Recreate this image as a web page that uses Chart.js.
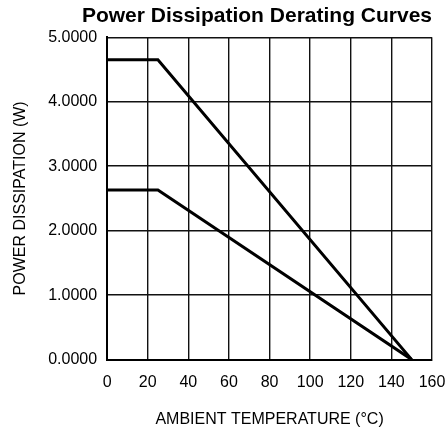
<!DOCTYPE html>
<html>
<head>
<meta charset="utf-8">
<script src="https://cdn.jsdelivr.net/npm/chart.js@4"></script>
<style>
  html, body { margin: 0; padding: 0; background: #fff; }
  #wrap { width: 447px; height: 429px; }
</style>
</head>
<body>
<div id="wrap"><canvas id="deratingChart" width="447" height="429"></canvas></div>
<script>
    // Derating curve data
    const ambientTemps = [0, 25, 150];
    const highPower = [4.65, 4.65, 0];
    const lowPower = [2.63, 2.63, 0];
    const xTicks = [0, 20, 40, 60, 80, 100, 120, 140, 160];
    const yTicks = [0, 1, 2, 3, 4, 5];

    const toPoints = (ys) => ambientTemps.map((t, i) => ({ x: t, y: ys[i] }));

    const ctx = document.getElementById('deratingChart').getContext('2d');
    new Chart(ctx, {
        type: 'line',
        data: {
            datasets: [
                {
                    label: 'High',
                    data: toPoints(highPower),
                    borderColor: '#000',
                    borderWidth: 3,
                    pointRadius: 0,
                    tension: 0
                },
                {
                    label: 'Low',
                    data: toPoints(lowPower),
                    borderColor: '#000',
                    borderWidth: 3,
                    pointRadius: 0,
                    tension: 0
                }
            ]
        },
        options: {
            responsive: false,
            animation: false,
            layout: {
                padding: { left: 11, right: 15, top: 0, bottom: 0 }
            },
            plugins: {
                legend: { display: false },
                tooltip: { enabled: false },
                title: {
                    display: true,
                    align: 'end',
                    text: 'Power Dissipation Derating Curves',
                    color: '#000',
                    font: { family: 'Liberation Sans', size: 21, weight: 'bold' },
                    padding: { top: 4, bottom: 8 }
                }
            },
            scales: {
                x: {
                    type: 'linear',
                    min: xTicks[0],
                    max: xTicks[xTicks.length - 1],
                    afterBuildTicks: (axis) => { axis.ticks = xTicks.map(v => ({ value: v })); },
                    afterFit: (axis) => { axis.paddingRight = 0; },
                    grid: { color: '#111', lineWidth: 1.4, drawTicks: false },
                    border: { color: '#000', width: 2 },
                    ticks: {
                        color: '#000',
                        padding: 13,
                        maxRotation: 0,
                        font: { family: 'Liberation Sans', size: 16 }
                    },
                    title: {
                        display: true,
                        text: 'AMBIENT TEMPERATURE (°C)',
                        color: '#000',
                        font: { family: 'Liberation Sans', size: 16 },
                        padding: { top: 5, bottom: 0 }
                    }
                },
                y: {
                    min: yTicks[0],
                    max: yTicks[yTicks.length - 1],
                    afterBuildTicks: (axis) => { axis.ticks = yTicks.map(v => ({ value: v })); },
                    grid: { color: '#111', lineWidth: 1.4, drawTicks: false },
                    border: { color: '#000', width: 2 },
                    ticks: {
                        color: '#000',
                        padding: 10,
                        font: { family: 'Liberation Sans', size: 16 },
                        callback: (v) => Number(v).toFixed(4)
                    },
                    title: {
                        display: true,
                        text: 'POWER DISSIPATION (W)',
                        color: '#000',
                        font: { family: 'Liberation Sans', size: 16 },
                        padding: { top: 0, bottom: 8 }
                    }
                }
            }
        }
    });
</script>
</body>
</html>
